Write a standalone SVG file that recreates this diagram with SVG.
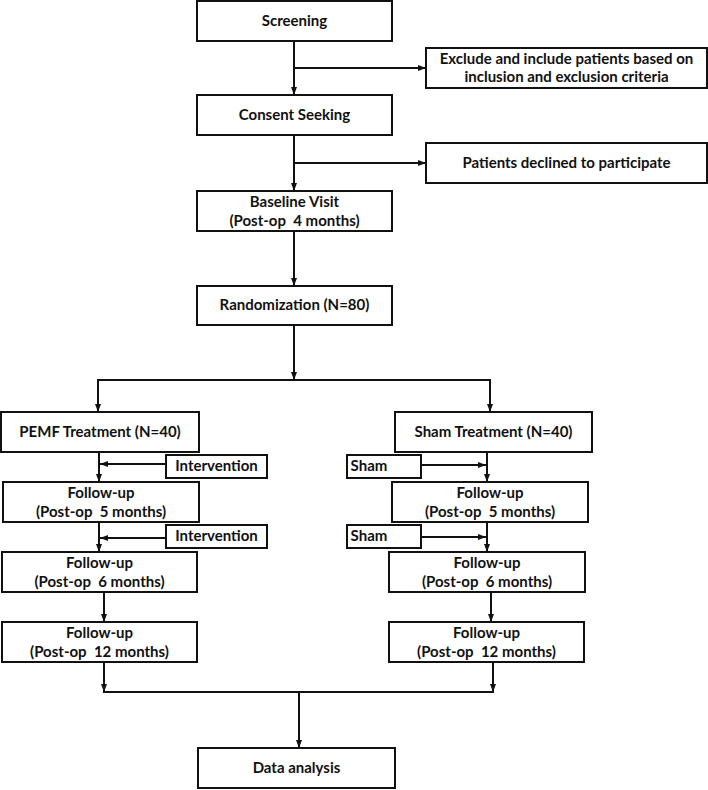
<svg xmlns="http://www.w3.org/2000/svg" width="708" height="790" viewBox="0 0 708 790">
<style>
.box{fill:#fff;stroke:#111;stroke-width:2}
.t{font-family:Lato,"Liberation Sans",sans-serif;font-weight:bold;font-size:15px;fill:#111;text-anchor:middle}
.c{fill:none;stroke:#111;stroke-width:2}
</style>
<defs>
<marker id="ah" markerUnits="userSpaceOnUse" markerWidth="8" markerHeight="8" viewBox="0 0 8 8" refX="8" refY="4" orient="auto">
<path d="M0,1 L8,4 L0,7 Z" fill="#111"/>
</marker>
</defs>
<g id="connectors">
<path class="c" d="M294,41 V95" marker-end="url(#ah)"/>
<path class="c" d="M294,68 H426" marker-end="url(#ah)"/>
<path class="c" d="M294,135 V191" marker-end="url(#ah)"/>
<path class="c" d="M294,163 H426" marker-end="url(#ah)"/>
<path class="c" d="M294,231 V286" marker-end="url(#ah)"/>
<path class="c" d="M294,325 V380" marker-end="url(#ah)"/>
<path class="c" d="M98,380 H491"/>
<path class="c" d="M98,379 V412" marker-end="url(#ah)"/>
<path class="c" d="M490,379 V412" marker-end="url(#ah)"/>
<path class="c" d="M99,452 V482" marker-end="url(#ah)"/>
<path class="c" d="M166,464 H100" marker-end="url(#ah)"/>
<path class="c" d="M99,522 V552" marker-end="url(#ah)"/>
<path class="c" d="M166,538 H100" marker-end="url(#ah)"/>
<path class="c" d="M104,592 V622" marker-end="url(#ah)"/>
<path class="c" d="M487,452 V482" marker-end="url(#ah)"/>
<path class="c" d="M421,465 H486" marker-end="url(#ah)"/>
<path class="c" d="M487,522 V552" marker-end="url(#ah)"/>
<path class="c" d="M421,537 H486" marker-end="url(#ah)"/>
<path class="c" d="M491,592 V622" marker-end="url(#ah)"/>
<path class="c" d="M104,662 V692" marker-end="url(#ah)"/>
<path class="c" d="M493,662 V692" marker-end="url(#ah)"/>
<path class="c" d="M103,692 H494"/>
<path class="c" d="M299,692 V748" marker-end="url(#ah)"/>
</g>
<g id="screening"><rect class="box" x="197" y="1" width="195" height="40"/><text class="t" x="294.5" y="26">Screening</text></g>
<g id="exclude"><rect class="box" x="426" y="48" width="281" height="40"/><text class="t" x="566.5" y="64">Exclude and include patients based on</text><text class="t" x="566.5" y="82">inclusion and exclusion criteria</text></g>
<g id="consent"><rect class="box" x="197" y="95" width="195" height="40"/><text class="t" x="294.5" y="120">Consent Seeking</text></g>
<g id="declined"><rect class="box" x="426" y="143" width="281" height="40"/><text class="t" x="566.5" y="168">Patients declined to participate</text></g>
<g id="baseline"><rect class="box" x="197" y="191" width="195" height="40"/><text class="t" x="294.5" y="207">Baseline Visit</text><text class="t" x="294.5" y="226">(Post-op&#160; 4 months)</text></g>
<g id="randomization"><rect class="box" x="197" y="286" width="195" height="39"/><text class="t" x="294.5" y="310">Randomization (N=80)</text></g>
<g id="pemf"><rect class="box" x="1" y="412" width="198" height="40"/><text class="t" x="100" y="437">PEMF Treatment (N=40)</text></g>
<g id="sham-treatment"><rect class="box" x="395" y="412" width="197" height="40"/><text class="t" x="493.5" y="437">Sham Treatment (N=40)</text></g>
<g id="intervention1"><rect class="box" x="166" y="455" width="101" height="23"/><text class="t" x="216.5" y="471">Intervention</text></g>
<g id="intervention2"><rect class="box" x="166" y="525" width="101" height="23"/><text class="t" x="216.5" y="541">Intervention</text></g>
<g id="sham1"><rect class="box" x="347" y="455" width="74" height="23"/><text class="t" x="369" y="471">Sham</text></g>
<g id="sham2"><rect class="box" x="347" y="525" width="74" height="23"/><text class="t" x="369" y="541">Sham</text></g>
<g id="fu5-left"><rect class="box" x="3" y="482" width="196" height="40"/><text class="t" x="101" y="498">Follow-up</text><text class="t" x="101" y="517">(Post-op&#160; 5 months)</text></g>
<g id="fu6-left"><rect class="box" x="2" y="552" width="195" height="40"/><text class="t" x="99.5" y="568">Follow-up</text><text class="t" x="99.5" y="587">(Post-op&#160; 6 months)</text></g>
<g id="fu12-left"><rect class="box" x="2" y="622" width="195" height="40"/><text class="t" x="99.5" y="638">Follow-up</text><text class="t" x="99.5" y="657">(Post-op&#160; 12 months)</text></g>
<g id="fu5-right"><rect class="box" x="392" y="482" width="196" height="40"/><text class="t" x="490" y="498">Follow-up</text><text class="t" x="490" y="517">(Post-op&#160; 5 months)</text></g>
<g id="fu6-right"><rect class="box" x="389" y="552" width="196" height="40"/><text class="t" x="487" y="568">Follow-up</text><text class="t" x="487" y="587">(Post-op&#160; 6 months)</text></g>
<g id="fu12-right"><rect class="box" x="389" y="622" width="195" height="40"/><text class="t" x="486.5" y="638">Follow-up</text><text class="t" x="486.5" y="657">(Post-op&#160; 12 months)</text></g>
<g id="data-analysis"><rect class="box" x="198" y="748" width="197" height="40"/><text class="t" x="296.5" y="773">Data analysis</text></g>
</svg>
